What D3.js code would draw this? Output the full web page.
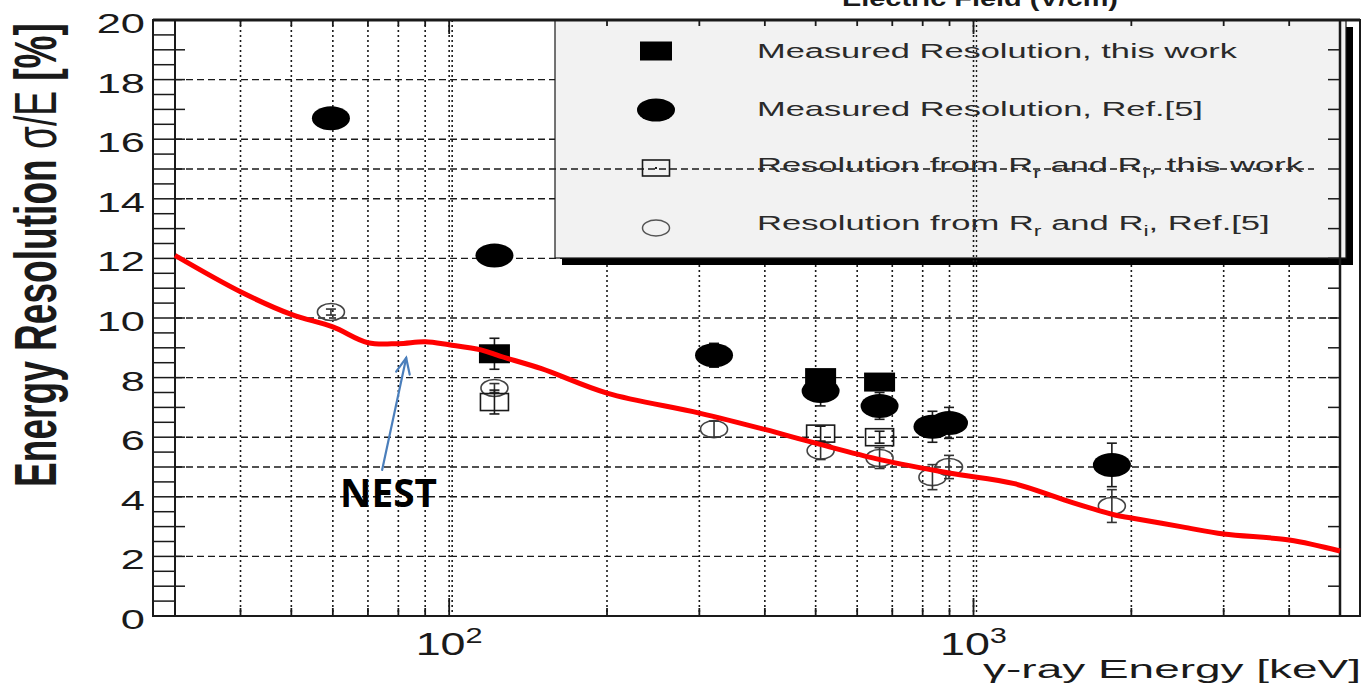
<!DOCTYPE html>
<html>
<head>
<meta charset="utf-8">
<script src="https://cdn.jsdelivr.net/npm/d3@7/dist/d3.min.js"></script>
<style>
  body { margin: 0; background: #fff; }
  svg { display: block; }
</style>
</head>
<body>
<svg id="chart" width="1365" height="691"></svg>
<script>
// ---- data: gamma-ray energy (keV) vs energy resolution sigma/E (%) ----
const measThisE   = [122, 511, 662];
const measThisR   = [8.8, 8.0, 7.85];
const measThisErr = [0.52, 0.2, 0.2];

const measRefE   = [59.5, 122, 320, 511, 662, 835, 898, 1836];
const measRefR   = [16.7, 12.1, 8.75, 7.55, 7.05, 6.35, 6.48, 5.07];
const measRefErr = [0, 0, 0.4, 0.5, 0.45, 0.52, 0.52, 0.73];

const calcThisE   = [122, 511, 662];
const calcThisR   = [7.18, 6.12, 6.0];
const calcThisErr = [0.4, 0.25, 0.2];

const calcRefE   = [59.5, 122, 320, 511, 662, 835, 898, 1836];
const calcRefR   = [10.2, 7.65, 6.27, 5.55, 5.3, 4.66, 5.0, 3.69];
const calcRefErr = [0.1, 0.15, 0.27, 0.3, 0.35, 0.42, 0.39, 0.55];

// NEST simulation curve
const nestE = [30, 40, 50, 60, 70, 80, 90, 100, 115, 125, 150, 200, 300, 400, 500, 667, 898, 1197, 1493, 1860, 2000, 2500, 3000, 4000, 5000];
const nestR = [12.1, 10.88, 10.12, 9.7, 9.17, 9.14, 9.2, 9.1, 8.93, 8.72, 8.3, 7.48, 6.81, 6.26, 5.8, 5.24, 4.8, 4.44, 3.89, 3.39, 3.29, 2.99, 2.75, 2.55, 2.18];

// axes
const xDomain = [30, 5000];
const yDomain = [0, 20];
const yTickVals = [0, 2, 4, 6, 8, 10, 12, 14, 16, 18, 20];
const yGridVals = [2, 4, 5, 6, 8, 10, 12, 14, 16, 18];
const yOverlayGrid = [15];
const xMajorVals = [100, 1000];
const xMajorExp = ["2", "3"];
const xOverlayGrid = [1000];

const legendLabels = [
  ["Measured Resolution, this work"],
  ["Measured Resolution, Ref.[5]"],
  ["Resolution from R", "r", " and R", "i", ", this work"],
  ["Resolution from R", "r", " and R", "i", ", Ref.[5]"]
];
const legendWidths = [481, 446, 547, 513];

// annotation: arrow from label to curve (energy, resolution)
const arrowFrom = [74.5, 4.9];
const arrowTo = [82.8, 8.66];
const nestLabelAt = [61.9, 3.66];

// ---- layout ----
const svg = d3.select("#chart");
const x = d3.scaleLog().domain(xDomain).range([175, 1340]);
const y = d3.scaleLinear().domain(yDomain).range([616, 20]);
const outerL = 153, outerR = 1360;
const ink = "#1a1a1a";

function fitX(sel, targetW, ax) {
  const w = sel.node().getBBox().width;
  const s = targetW / w;
  sel.attr("transform", `translate(${ax},0) scale(${s},1) translate(${-ax},0)`);
}

const minorTicks = [];
for (let dec = 10; dec <= 1000; dec *= 10) {
  for (let k = 1; k <= 9; k++) {
    const v = dec * k;
    if (v >= xDomain[0] && v <= xDomain[1]) minorTicks.push(v);
  }
}
minorTicks.push(5000);
const uniqueTicks = Array.from(new Set(minorTicks)).sort((a, b) => a - b);

// ---- grid ----
const grid = svg.append("g");
grid.selectAll("line.v").data(uniqueTicks.filter(v => !xOverlayGrid.includes(v))).join("line")
  .attr("x1", d => x(d)).attr("x2", d => x(d))
  .attr("y1", y(20)).attr("y2", y(0))
  .attr("stroke", ink).attr("stroke-width", 1.6).attr("stroke-dasharray", "2,3");
// doubled line at 10^2
grid.append("line")
  .attr("x1", x(100) + 3).attr("x2", x(100) + 3)
  .attr("y1", y(20)).attr("y2", y(0))
  .attr("stroke", ink).attr("stroke-width", 1.6).attr("stroke-dasharray", "2,3");
grid.selectAll("line.h").data(yGridVals).join("line")
  .attr("x1", x(xDomain[0])).attr("x2", x(xDomain[1]))
  .attr("y1", d => y(d)).attr("y2", d => y(d))
  .attr("stroke", ink).attr("stroke-width", 1.4).attr("stroke-dasharray", "7,4");

// ---- legend box ----
const lg = svg.append("g");
const lgX0 = 555, lgX1 = 1346, lgY0 = y(20), lgY1 = 258;
lg.append("rect").attr("x", lgX0 + 7).attr("y", lgY0 + 7)
  .attr("width", lgX1 - lgX0).attr("height", lgY1 - lgY0).attr("fill", "#000");
lg.append("rect").attr("x", lgX0).attr("y", lgY0)
  .attr("width", lgX1 - lgX0).attr("height", lgY1 - lgY0)
  .attr("fill", "#f2f2f2").attr("stroke", ink).attr("stroke-width", 1.2);

// grid lines that run across the legend
svg.selectAll("line.ov").data(xOverlayGrid).join("line")
  .attr("x1", d => x(d)).attr("x2", d => x(d))
  .attr("y1", y(20)).attr("y2", y(0))
  .attr("stroke", ink).attr("stroke-width", 1.6).attr("stroke-dasharray", "2,3");
svg.selectAll("line.ov2").data(xOverlayGrid).join("line")
  .attr("x1", d => x(d) + 3).attr("x2", d => x(d) + 3)
  .attr("y1", y(20)).attr("y2", y(0))
  .attr("stroke", ink).attr("stroke-width", 1.4).attr("stroke-dasharray", "2,3");
svg.selectAll("line.oh").data(yOverlayGrid).join("line")
  .attr("x1", x(xDomain[0])).attr("x2", 1314)
  .attr("y1", d => y(d)).attr("y2", d => y(d))
  .attr("stroke", ink).attr("stroke-width", 1.4).attr("stroke-dasharray", "7,4");

// ---- frames and ticks ----
const fr = svg.append("g").attr("stroke", ink);
fr.append("rect").attr("x", outerL).attr("y", y(20)).attr("width", outerR - outerL).attr("height", y(0) - y(20))
  .attr("fill", "none").attr("stroke-width", 2);
fr.append("line").attr("x1", outerL).attr("x2", outerR).attr("y1", y(20)).attr("y2", y(20)).attr("stroke-width", 3);
fr.append("line").attr("x1", x(xDomain[0])).attr("x2", x(xDomain[0])).attr("y1", y(20)).attr("y2", y(0)).attr("stroke-width", 2);
fr.append("line").attr("x1", x(xDomain[1])).attr("x2", x(xDomain[1])).attr("y1", y(20)).attr("y2", y(0)).attr("stroke-width", 2.5);
// ladder between the two left frames
fr.selectAll("line.lad").data(d3.range(0, 20.01, 0.5)).join("line")
  .attr("x1", outerL).attr("x2", x(xDomain[0]))
  .attr("y1", d => y(d)).attr("y2", d => y(d)).attr("stroke-width", 1.5);
// left and right integer ticks
fr.selectAll("line.lt").data(d3.range(1, 20)).join("line")
  .attr("x1", x(xDomain[0])).attr("x2", x(xDomain[0]) + 10)
  .attr("y1", d => y(d)).attr("y2", d => y(d)).attr("stroke-width", 1.5);
fr.selectAll("line.rt").data(d3.range(1, 20)).join("line")
  .attr("x1", x(xDomain[1]) - 12).attr("x2", x(xDomain[1]))
  .attr("y1", d => y(d)).attr("y2", d => y(d)).attr("stroke-width", 1.5);
// bottom and top log ticks
fr.selectAll("line.bt").data(uniqueTicks).join("line")
  .attr("x1", d => x(d)).attr("x2", d => x(d))
  .attr("y1", y(0)).attr("y2", d => y(0) - (xMajorVals.includes(d) ? 18 : 8)).attr("stroke-width", 1.8);
fr.selectAll("line.tt").data(uniqueTicks).join("line")
  .attr("x1", d => x(d)).attr("x2", d => x(d))
  .attr("y1", y(20)).attr("y2", d => y(20) + (xMajorVals.includes(d) ? 14 : 6)).attr("stroke-width", 1.8);

// ---- tick labels ----
const tl = svg.append("g").attr("font-family", "'Liberation Sans', Arial, sans-serif").attr("fill", ink);
tl.selectAll("text.yt").data(yTickVals).join("text")
  .attr("x", 145).attr("y", d => y(d) + 13)
  .attr("text-anchor", "end").attr("font-size", 28)
  .text(d => d)
  .each(function () {
    const s = d3.select(this);
    const w = this.getBBox().width;
    fitX(s, w * 1.55, 145);
  });
xMajorVals.forEach((v, i) => {
  const t = tl.append("text").attr("x", x(v)).attr("y", 655).attr("text-anchor", "middle").attr("font-size", 32);
  t.append("tspan").text("10");
  t.append("tspan").attr("font-size", 22).attr("dy", -12).text(xMajorExp[i]);
  fitX(t, 67, x(v));
});

// axis titles
const xt = svg.append("text")
  .attr("x", 1361).attr("y", 678).attr("text-anchor", "end")
  .attr("font-family", "'Liberation Sans', Arial, sans-serif").attr("font-size", 26).attr("fill", ink)
  .text("\u03b3-ray Energy [keV]");
fitX(xt, 378, 1361);

const yl = svg.append("text")
  .attr("text-anchor", "middle")
  .attr("font-family", "'Liberation Sans', Arial, sans-serif").attr("font-size", 40).attr("font-weight", "bold").attr("fill", ink);
yl.append("tspan").text("Energy Resolution ");
yl.append("tspan").attr("font-weight", "normal").text("\u03c3/E");
yl.append("tspan").text(" [%]");
{
  const w = yl.node().getBBox().width;
  yl.attr("transform", `translate(56,255) scale(1.48,1) rotate(-90) scale(${464 / w},1)`);
}

const topT = svg.append("text")
  .attr("x", 980).attr("y", 6).attr("text-anchor", "middle")
  .attr("font-family", "'Liberation Sans', Arial, sans-serif").attr("font-size", 22).attr("font-weight", "bold").attr("fill", ink)
  .text("Electric Field (V/cm)");
fitX(topT, 276, 980);

// ---- markers ----
function zip(E, R, Err) { return E.map((e, i) => ({ e, r: R[i], err: Err[i] })); }
const measThis = zip(measThisE, measThisR, measThisErr);
const measRef = zip(measRefE, measRefR, measRefErr);
const calcThis = zip(calcThisE, calcThisR, calcThisErr);
const calcRef = zip(calcRefE, calcRefR, calcRefErr);

function errorBars(g, data, color) {
  const eg = g.append("g").attr("stroke", color).attr("stroke-width", 1.6);
  eg.selectAll("line.v").data(data.filter(d => d.err > 0)).join("line")
    .attr("x1", d => x(d.e)).attr("x2", d => x(d.e))
    .attr("y1", d => y(d.r + d.err)).attr("y2", d => y(d.r - d.err));
  eg.selectAll("line.c1").data(data.filter(d => d.err > 0)).join("line")
    .attr("x1", d => x(d.e) - 5).attr("x2", d => x(d.e) + 5)
    .attr("y1", d => y(d.r + d.err)).attr("y2", d => y(d.r + d.err));
  eg.selectAll("line.c2").data(data.filter(d => d.err > 0)).join("line")
    .attr("x1", d => x(d.e) - 5).attr("x2", d => x(d.e) + 5)
    .attr("y1", d => y(d.r - d.err)).attr("y2", d => y(d.r - d.err));
}

const mk = svg.append("g");
// open circles (Ref.[5], from Rr and Ri)
const gOC = mk.append("g");
gOC.selectAll("ellipse").data(calcRef).join("ellipse")
  .attr("cx", d => x(d.e)).attr("cy", d => y(d.r)).attr("rx", 13.5).attr("ry", 8.5)
  .attr("fill", "none").attr("stroke", "#444").attr("stroke-width", 1.6);
errorBars(gOC, calcRef, "#333");
// open squares (this work, from Rr and Ri)
const gOS = mk.append("g");
gOS.selectAll("rect").data(calcThis).join("rect")
  .attr("x", d => x(d.e) - 14).attr("y", d => y(d.r) - 8.5).attr("width", 28).attr("height", 17)
  .attr("fill", "none").attr("stroke", ink).attr("stroke-width", 1.6);
errorBars(gOS, calcThis, ink);
// filled circles (Ref.[5], measured)
const gFC = mk.append("g");
errorBars(gFC, measRef, ink);
gFC.selectAll("ellipse").data(measRef).join("ellipse")
  .attr("cx", d => x(d.e)).attr("cy", d => y(d.r)).attr("rx", 19).attr("ry", 12)
  .attr("fill", "#000");
// filled squares (this work, measured)
const gFS = mk.append("g");
errorBars(gFS, measThis, ink);
gFS.selectAll("rect").data(measThis).join("rect")
  .attr("x", d => x(d.e) - 15.5).attr("y", d => y(d.r) - 9.5).attr("width", 31).attr("height", 19)
  .attr("fill", "#000");

// ---- NEST curve ----
const nest = nestE.map((e, i) => ({ e, r: nestR[i] }));
svg.append("path").datum(nest)
  .attr("d", d3.line().x(d => x(d.e)).y(d => y(d.r)).curve(d3.curveCatmullRom.alpha(0.5)))
  .attr("fill", "none").attr("stroke", "#ff0000").attr("stroke-width", 5).attr("stroke-linejoin", "round");

// ---- legend entries ----
const rowMarkY = [51, 110, 168, 228];
const rowTextY = [58, 116, 172, 230];
const mX = 656;
lg.append("rect").attr("x", mX - 16).attr("y", rowMarkY[0] - 9.5).attr("width", 32).attr("height", 19).attr("fill", "#000");
lg.append("ellipse").attr("cx", mX).attr("cy", rowMarkY[1]).attr("rx", 19).attr("ry", 11.5).attr("fill", "#000");
lg.append("rect").attr("x", mX - 13.5).attr("y", rowMarkY[2] - 8).attr("width", 27).attr("height", 16)
  .attr("fill", "#f2f2f2").attr("stroke", ink).attr("stroke-width", 1.6);
lg.append("rect").attr("x", mX - 1).attr("y", rowMarkY[2] - 1).attr("width", 2).attr("height", 2).attr("fill", ink);
lg.append("ellipse").attr("cx", mX).attr("cy", rowMarkY[3]).attr("rx", 13.5).attr("ry", 8)
  .attr("fill", "none").attr("stroke", "#555").attr("stroke-width", 1.5);

legendLabels.forEach((parts, i) => {
  const t = svg.append("text").attr("x", 757).attr("y", rowTextY[i])
    .attr("font-family", "'Liberation Sans', Arial, sans-serif").attr("font-size", 21).attr("fill", "#2a2a2a");
  parts.forEach((p, j) => {
    const sub = (j === 1 || j === 3);
    const ts = t.append("tspan").text(p);
    if (sub) ts.attr("font-size", 14).attr("dy", 6);
    else if (j > 0) ts.attr("dy", -6);
  });
  fitX(t, legendWidths[i], 757);
});

// ---- annotation ----
const ax0 = x(arrowFrom[0]), ay0 = y(arrowFrom[1]);
const ax1 = x(arrowTo[0]), ay1 = y(arrowTo[1]);
const ang = Math.atan2(ay0 - ay1, ax0 - ax1);
const head = 17, spread = 0.42;
const ann = svg.append("g").attr("stroke", "#4a7ebb").attr("stroke-width", 2.2).attr("fill", "none").attr("stroke-linecap", "round");
ann.append("line").attr("x1", ax0).attr("y1", ay0).attr("x2", ax1).attr("y2", ay1);
ann.append("path").attr("d",
  `M${ax1 + head * Math.cos(ang + spread)},${ay1 + head * Math.sin(ang + spread)}L${ax1},${ay1}L${ax1 + head * Math.cos(ang - spread)},${ay1 + head * Math.sin(ang - spread)}`);

const nestT = svg.append("text")
  .attr("x", x(nestLabelAt[0])).attr("y", y(nestLabelAt[1]))
  .attr("font-family", "'Open Sans', 'Noto Sans', sans-serif").attr("font-weight", 700).attr("font-size", 40).attr("fill", "#000")
  .text("NEST");
fitX(nestT, 97, x(nestLabelAt[0]));
</script>
</body>
</html>
